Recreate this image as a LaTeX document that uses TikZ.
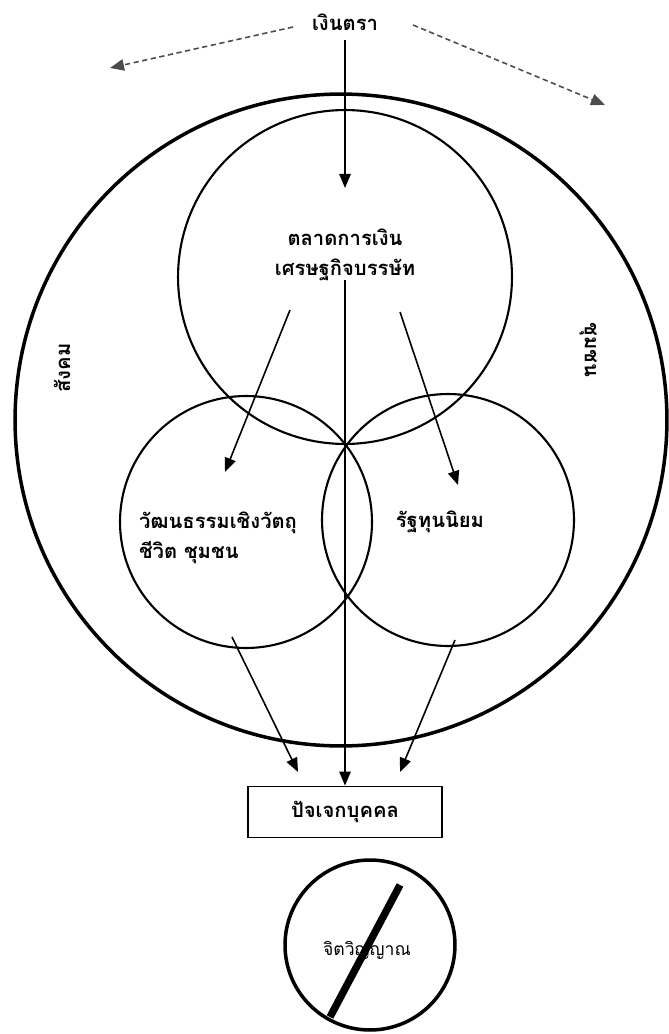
\documentclass[tikz,border=0pt]{standalone}
\usepackage{fontspec}
\newfontfamily\thaifont[Script=Thai]{Loma}
\usetikzlibrary{arrows.meta}

\begin{document}
\begin{tikzpicture}[x=0.02cm,y=-0.02cm,
	lbl/.style={font=\thaifont\bfseries\fontsize{11.5}{17}\selectfont},
	ring/.style={draw,circle,inner sep=0pt,line width=1.2pt},
	flow/.style={-{Triangle[length=8pt,width=6.5pt]},line width=0.9pt},
	hint/.style={flow,dash pattern=on 3pt off 2pt,draw=black!70}]
	\useasboundingbox (0,0) rectangle (669,1034);
	% circles
	\node[ring,line width=2pt,minimum size=13.04cm] (society) at (341,420) {};
	\node[ring,minimum size=6.68cm] (market) at (345,277) {};
	\node[ring,minimum size=5.04cm] (culture) at (246,522) {};
	\node[ring,minimum size=5.04cm] (state) at (448,520) {};
	\node[ring,line width=2pt,minimum size=3.4cm] (spirit) at (370,945) {};
	% labels
	\node[lbl] (money) at (345,22) {เงินตรา};
	\node[lbl,align=center] (markettxt) at (345,255) {ตลาดการเงิน\\เศรษฐกิจบรรษัท};
	\node[lbl,align=left] (culturetxt) at (218,538) {วัฒนธรรมเชิงวัตถุ\\ชีวิต ชุมชน};
	\node[lbl] (statetxt) at (440,522) {รัฐทุนนิยม};
	\node[lbl,rotate=90] (soc) at (62,368) {สังคม};
	\node[lbl,rotate=-90] (comm) at (588,350) {ชุมชน};
	\node[lbl,draw,line width=1pt,minimum width=3.88cm,minimum height=1.02cm] (self) at (345,812) {ปัจเจกบุคคล};
	\node[font=\thaifont\fontsize{10}{12}\selectfont] (spirittxt) at (367,950) {จิตวิญญาณ};
	% crossing bar
	\coordinate (barA) at (330,1017);
	\coordinate (barB) at (400,885);
	\draw[line width=4.2pt] (barA) -- (barB);
	% ends of the arrows
	\coordinate (dashL0) at (293,27);  \coordinate (dashL1) at (110,68);
	\coordinate (dashR0) at (413,25);  \coordinate (dashR1) at (605,105);
	\coordinate (down0) at (345,40);   \coordinate (down1) at (345,188);
	\coordinate (mkL0) at (290,310);   \coordinate (mkL1) at (225,472);
	\coordinate (mkR0) at (400,312);   \coordinate (mkR1) at (458,485);
	\coordinate (mid0) at (345,280);
	\coordinate (clL0) at (232,637);   \coordinate (clL1) at (298,772);
	\coordinate (stR0) at (455,640);   \coordinate (stR1) at (400,772);
	\draw[hint] (dashL0) -- (dashL1);
	\draw[hint] (dashR0) -- (dashR1);
	\draw[flow] (down0) -- (down1);
	\draw[flow] (mkL0) -- (mkL1);
	\draw[flow] (mkR0) -- (mkR1);
	\draw[flow] (mid0) -- (self.north);
	\draw[flow] (clL0) -- (clL1);
	\draw[flow] (stR0) -- (stR1);
\end{tikzpicture}
\end{document}
